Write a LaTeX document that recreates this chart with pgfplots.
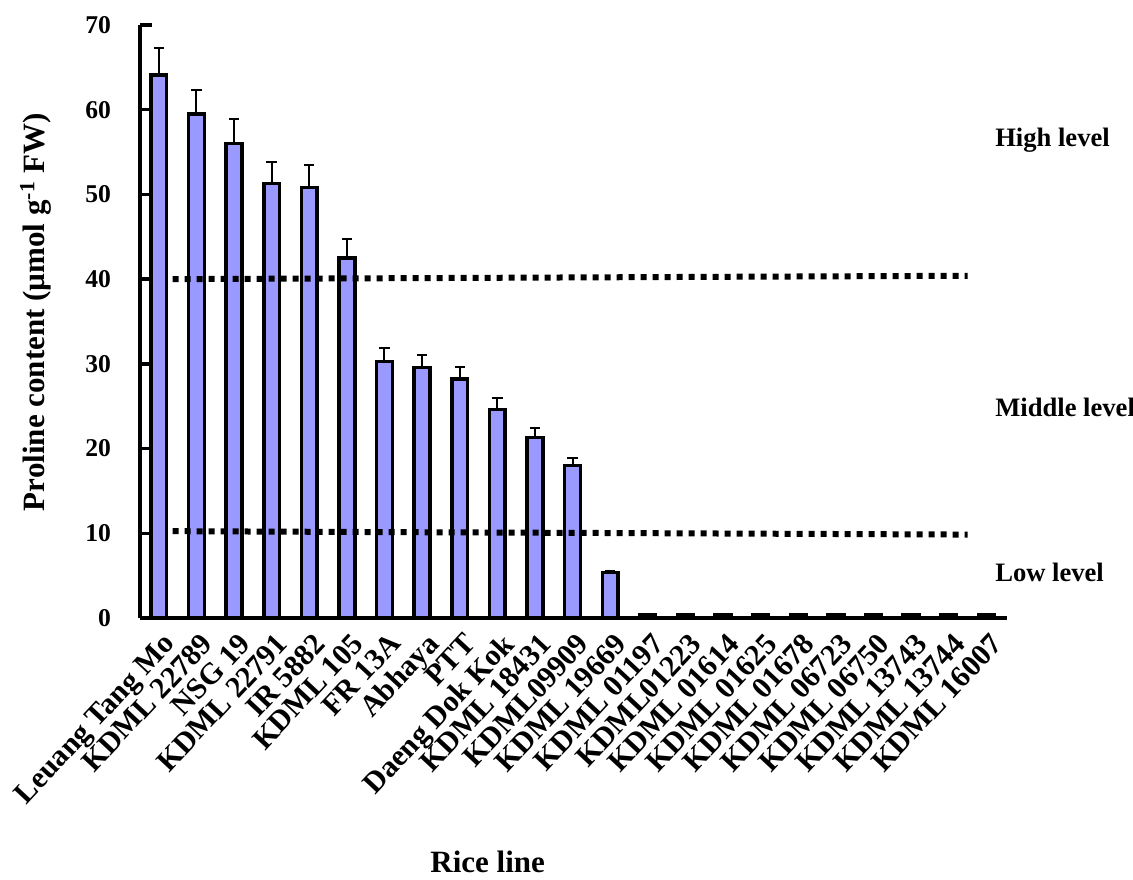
\documentclass[border=0pt]{standalone}
\usepackage{pgfplots}
\pgfplotsset{compat=1.18}
\usepackage{pgfplotstable}
\usepackage{fontspec}
\setmainfont{Liberation Serif}
\definecolor{barblue}{RGB}{153,153,255}
\pgfplotstableread{
x y e
0 64.1 3.2
1 59.5 2.8
2 56.0 2.9
3 51.3 2.5
4 50.8 2.7
5 42.5 2.2
6 30.3 1.6
7 29.6 1.5
8 28.2 1.4
9 24.6 1.4
10 21.3 1.1
11 18.0 0.9
12 5.35 0.2
13 0.35 0
14 0.35 0
15 0.35 0
16 0.35 0
17 0.35 0
18 0.35 0
19 0.35 0
20 0.35 0
21 0.35 0
22 0.35 0
}\proline
\begin{document}
\begin{tikzpicture}
\begin{axis}[
  scale only axis, width=433.5pt, height=296.5pt,
  xmin=-0.5, xmax=22.55, ymin=0, ymax=70,
  axis x line=bottom, axis y line=left,
  axis line style={-, line width=1.75pt, black},
  clip=false,
  ytick={0,10,...,70},
  xtick={0,...,22},
  xticklabels={Leuang Tang Mo, KDML 22789, NSG 19, KDML 22791, IR 5882, KDML 105, FR 13A, Abhaya, PTT, Daeng Dok Kok, KDML 18431, KDML09909, KDML 19669, KDML 01197, KDML01223, KDML 01614, KDML 01625, KDML 01678, KDML 06723, KDML 06750, KDML 13743, KDML 13744, KDML 16007},
  tick align=inside,
  major tick length=6pt,
  ytick style={line width=1.75pt, black},
  xtick style={draw=none},
  /pgf/number format/assume math mode=true,
  yticklabel style={font=\bfseries\fontsize{12.8}{13}\selectfont, xshift=-11pt},
  xticklabel style={font=\bfseries\fontsize{15}{16}\selectfont, anchor=north east, inner sep=0pt, xshift=1.5pt, yshift=-6.5pt, rotate=47},
  ylabel={Proline content (µmol g\textsuperscript{-1} FW)},
  ylabel style={at={(axis description cs:-0.12,0.516)}, anchor=center, font=\bfseries\fontsize{15.5}{16}\selectfont},
  xlabel={Rice line},
  xlabel style={at={(axis description cs:0.401,-0.412)}, anchor=center, font=\bfseries\fontsize{15.5}{16}\selectfont},
]
\addplot[ybar, bar width=0.42, bar shift=0pt, fill=barblue, draw=black, line width=1.75pt,
  error bars/.cd, y dir=plus, y explicit,
  error bar style={line width=1pt, black},
  error mark options={rotate=90, mark size=2.6pt, line width=1pt, black}]
  table[x=x, y=y, y error=e] {\proline};
\addplot[black, line width=3pt, dash pattern=on 3pt off 3pt, mark=none] coordinates {(0.37,40.0) (21.5,40.4)};
\addplot[black, line width=3pt, dash pattern=on 3pt off 3pt, mark=none] coordinates {(0.37,10.25) (21.5,9.85)};
\node[anchor=west, font=\bfseries\fontsize{13.3}{14}\selectfont] at (axis cs:22.05,56.4) {High level};
\node[anchor=west, font=\bfseries\fontsize{13.3}{14}\selectfont] at (axis cs:22.05,24.9) {Middle level};
\node[anchor=west, font=\bfseries\fontsize{13.3}{14}\selectfont] at (axis cs:22.05,5.4) {Low level};
\coordinate (LL) at (rel axis cs:0,0);
\coordinate (UR) at (rel axis cs:1,1);
\end{axis}
\pgfresetboundingbox
\useasboundingbox ([shift={(-70pt,-130.5pt)}]LL) rectangle ([shift={(63pt,12.5pt)}]UR);
\end{tikzpicture}
\end{document}
